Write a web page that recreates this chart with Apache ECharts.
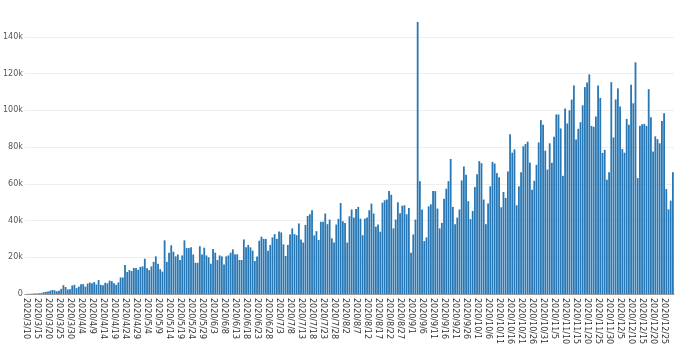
<!DOCTYPE html>
<html>
<head>
<meta charset="utf-8">
<script src="https://cdn.jsdelivr.net/npm/echarts@6/dist/echarts.min.js"></script>
<style>html,body{margin:0;padding:0;background:#fff}#c{width:680px;height:355px}</style>
</head>
<body>
<div id="c"></div>
<script>
// Category labels: daily dates starting 2020/3/10
var startDate = [2020, 3, 10];
var dayCount = 295;
var categories = [];
(function(){
  var d = new Date(startDate[0], startDate[1]-1, startDate[2]);
  for (var i = 0; i < dayCount; i++) {
    categories.push(d.getFullYear() + '/' + (d.getMonth()+1) + '/' + d.getDate());
    d.setDate(d.getDate()+1);
  }
})();

// Daily values
var valuesMarApr = [50,100,150,200,300,300,400,500,1000,1200,1300,1800,2200,2000,1500,1800,2800,4800,3800,2500,2600,4600,5000,3200,4000,5300,5400,4000,5700,6200,5800,6500,5200,7600,5000,4700,6100,5800,7300,7000,5800,5000,6300,9000,9000,15800,12000,13000,12500,14200];
var valuesMayJun = [14200,13200,14800,15000,19200,14000,13000,15000,17500,20500,16500,13500,12200,29200,17500,22500,26500,23000,20500,21500,18500,21000,29200,25000,25000,25500,21500,17000,17000,26000,21500,25200,21000,20000,16500,24500,22500,18500,21000,20500,16000,20500,21000,22500,24300,21600,21600,18500,18500];
var valuesJulAug = [29700,25400,26700,25400,23600,18000,20400,29000,31200,30000,30000,23600,26700,30800,32600,30000,34000,33500,27000,20700,26700,32400,35700,32600,32000,38400,29700,28000,37600,42500,43400,45600,31900,34200,29400,39300,39300,43800,38000,40500,30300,28000,37800,40900,49500,39600,38700,28000,42300,46000];
var valuesAugSep = [41600,46300,47400,41000,32000,41000,41600,45600,49200,43800,36600,37800,33900,49700,51000,51400,56000,54000,35700,40500,49900,44000,48000,48300,43400,46800,22500,32400,40500,148000,61400,46000,28800,30800,47700,48800,56000,56000,46500,35700,38700,51900,57300,61400,73500];
var valuesOctNov = [47400,38000,41600,46000,61800,69400,64900,50500,40700,45200,58200,65200,72300,71200,51400,38000,49200,58600,71900,71000,65800,63600,47200,55500,52300,66700,87000,76900,78700,48300,58600,66300,80400,81600,82900,71500,56800,61600,70300,82500,94600,92100,78000,67700,82000,71400,85600,97700,97700,90100];
var valuesNovDec = [64300,101000,92800,100000,105800,113500,84100,89900,93500,102700,112600,115100,119500,91500,91000,96600,113500,106700,76800,78400,62200,66300,115300,85200,105900,111900,102000,78900,76900,95300,92100,113900,103800,126100,63100,91500,92400,92600,91500,111500,96200,77500,85800,84300,82000,94200,98400,57100,46100,50800,66300];

var values = [].concat(valuesMarApr, valuesMayJun, valuesJulAug, valuesAugSep, valuesOctNov, valuesNovDec);

var chart = echarts.init(document.getElementById('c'), null, {renderer: 'canvas'});
chart.setOption({
  animation: false,
  backgroundColor: '#ffffff',
  grid: {left: 21, right: 6, top: 0, bottom: 61},
  xAxis: {
    type: 'category',
    data: categories,
    axisLine: {lineStyle: {color: '#999'}},
    axisTick: {show: false},
    axisLabel: {
      interval: 4,
      rotate: -90,
      margin: 4,
      fontSize: 8,
      fontFamily: 'DejaVu Sans',
      color: '#333'
    }
  },
  yAxis: {
    type: 'value',
    min: 0,
    max: 160000,
    interval: 20000,
    axisLine: {show: false},
    axisTick: {show: false},
    splitLine: {lineStyle: {color: ['#eeeeee','#eeeeee','#eeeeee','#eeeeee','#eeeeee','#eeeeee','#eeeeee','#eeeeee','rgba(255,255,255,0)']}},
    axisLabel: {
      margin: 2,
      fontSize: 8,
      fontFamily: 'DejaVu Sans',
      color: '#555',
      formatter: function(v){ if (v === 0) return '0'; if (v >= 160000) return ''; return (v/1000) + 'k'; }
    }
  },
  series: [{
    type: 'bar',
    data: values,
    barCategoryGap: '18%',
    itemStyle: {color: '#2878b6'}
  }]
});
</script>
</body>
</html>
